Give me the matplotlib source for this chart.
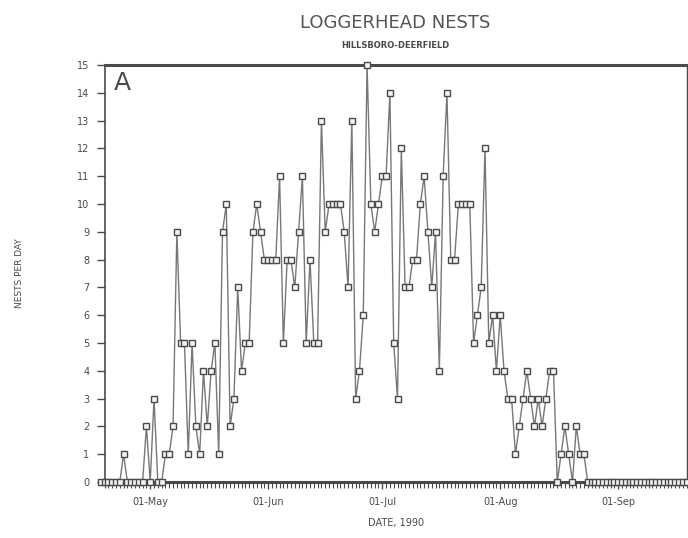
import matplotlib
matplotlib.use("Agg")
import matplotlib.pyplot as plt
import matplotlib.dates as mdates
import datetime as dt

# daily nest counts, 1990 season
start_day = dt.date(1990, 4, 18)
early = [0, 0, 0, 0, 0, 0, 1, 0, 0, 0, 0, 0, 2, 0, 3, 0, 0]
season = [1, 1, 2, 9, 5, 5, 1, 5, 2, 1, 4, 2, 4, 5, 1, 9, 10, 2, 3, 7, 4,
          5, 5, 9, 10, 9, 8, 8, 8, 8, 11, 5, 8, 8, 7, 9, 11, 5, 8, 5, 5,
          13, 9, 10, 10, 10, 10, 9, 7, 13, 3, 4, 6, 15, 10, 9, 10, 11, 11, 14, 5,
          3, 12, 7, 7, 8, 8, 10, 11, 9, 7, 9, 4, 11, 14, 8, 8, 10, 10, 10, 10, 5,
          6, 7, 12, 5, 6, 4, 6, 4, 3, 3, 1, 2, 3, 4, 3, 2, 3, 2, 3, 4,
          4, 0, 1, 2, 1, 0, 2, 1, 1, 0]
late = [0] * 26
nests = early + season + late
dates = [start_day + dt.timedelta(days=i) for i in range(len(nests))]

month_ticks = [dt.date(1990, m, 1) for m in (5, 6, 7, 8, 9)]
month_labels = ['01-May', '01-Jun', '01-Jul', '01-Aug', '01-Sep']

ink = '#4a4a4a'
fig = plt.figure(figsize=(6.88, 5.38), dpi=100)
ax = fig.add_axes([0.152, 0.104, 0.846, 0.775])

ax.plot(dates, nests, color='#777777', lw=1.0, marker='s', ms=5,
        mfc='#f4f4f4', mec=ink, mew=1.0, clip_on=False, zorder=3)

ax.set_ylim(0, 15)
ax.set_yticks(range(16))
ax.set_xlim(dt.date(1990, 4, 19), dt.date(1990, 9, 19))
ax.set_xticks(month_ticks)
ax.set_xticklabels(month_labels)
ax.xaxis.set_minor_locator(mdates.DayLocator())

for s in ax.spines.values():
    s.set_color(ink)
ax.spines['top'].set_linewidth(2.2)
ax.spines['bottom'].set_linewidth(2.2)
ax.spines['left'].set_linewidth(1.2)
ax.spines['right'].set_linewidth(1.0)

ax.tick_params(axis='y', direction='out', length=6, width=1, colors=ink,
               labelsize=7, pad=5)
ax.tick_params(axis='x', which='major', direction='out', length=5, width=1,
               colors=ink, labelsize=7, pad=6)
ax.tick_params(axis='x', which='minor', direction='out', length=4, width=0.8,
               colors=ink)

ax.set_xlabel('DATE, 1990', fontsize=7, color=ink, labelpad=8)
ax.set_ylabel('NESTS PER DAY', fontsize=6.5, color=ink, labelpad=38)
ax.text(0.015, 0.985, 'A', transform=ax.transAxes, fontsize=18,
        color=ink, va='top', ha='left')

fig.text(0.575, 0.958, 'LOGGERHEAD NESTS', ha='center', va='center',
         fontsize=13, color='#555555')
fig.text(0.575, 0.915, 'HILLSBORO-DEERFIELD', ha='center', va='center',
         fontsize=6, color=ink, fontweight='bold')

plt.savefig('out.png', dpi=100)
